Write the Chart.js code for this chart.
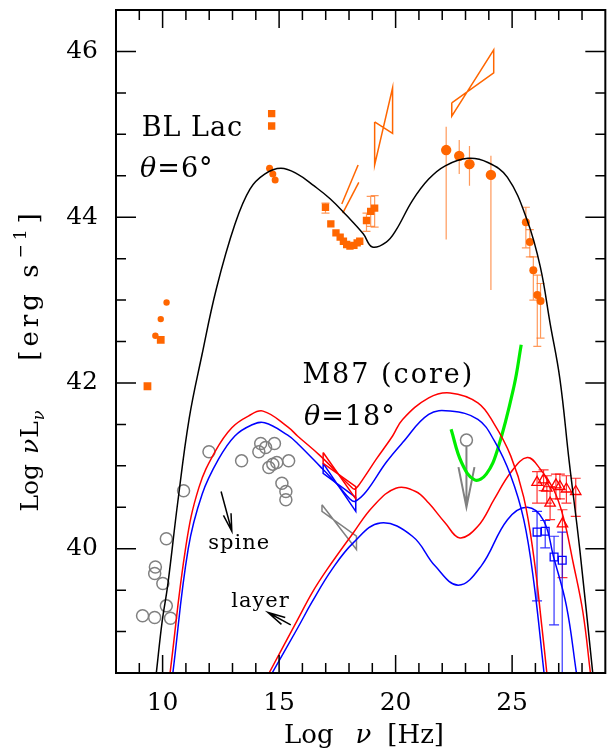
<!DOCTYPE html>
<html>
<head>
<meta charset="utf-8">
<script src="https://cdn.jsdelivr.net/npm/chart.js@4.4.1/dist/chart.umd.min.js"></script>
<style>
  html, body { margin: 0; padding: 0; background: #fff; }
</style>
</head>
<body>
<canvas id="sed" width="607" height="755"></canvas>
<script>
// log nu [Hz] / log nuL_nu [erg/s]

// BL Lac model (black)
const blLacNu = [9.73, 9.98, 10.22, 10.65, 11.14, 11.69, 12.31, 13.11, 13.75, 14.38, 15.08, 15.79, 16.49, 17.2, 17.9, 18.61, 19.0, 19.6, 20.01, 20.72, 21.42, 22.13, 23.11, 23.96, 24.8, 25.65, 26.21, 26.63, 27.05, 27.45, 27.9, 28.46];
const blLacL  = [38.5, 39.12, 39.56, 40.56, 41.57, 42.34, 43.14, 43.92, 44.34, 44.52, 44.59, 44.52, 44.38, 44.22, 44.02, 43.8, 43.64, 43.7, 43.84, 44.2, 44.46, 44.62, 44.71, 44.66, 44.48, 43.96, 43.40, 42.72, 42.05, 41.05, 40.0, 38.5];

// M87 spine (red high / blue low)
const spineRedNu = [10.32, 11.0, 11.56, 12.27, 12.97, 13.68, 14.31, 15.37, 15.79, 16.77, 17.48, 18.04, 18.25, 18.6, 19.17, 19.87, 20.3, 21.42, 22.34, 23.53, 24.24, 24.94, 25.5, 25.93, 26.28, 26.49];
const spineRedL  = [38.5, 40.03, 40.74, 41.18, 41.46, 41.6, 41.66, 41.47, 41.36, 41.12, 40.92, 40.76, 40.72, 40.84, 41.08, 41.36, 41.56, 41.82, 41.88, 41.76, 41.5, 41.12, 40.62, 39.9, 39.05, 38.5];
const spineBlueNu = [10.44, 11.1, 11.7, 12.4, 13.1, 13.8, 14.38, 15.37, 15.79, 16.77, 17.48, 18.04, 18.25, 18.74, 19.59, 20.3, 21.42, 22.34, 23.53, 24.24, 24.94, 25.5, 25.93, 26.37];
const spineBlueL  = [38.5, 40.0, 40.66, 41.08, 41.36, 41.49, 41.52, 41.37, 41.27, 40.99, 40.78, 40.6, 40.57, 40.69, 41.04, 41.28, 41.62, 41.66, 41.56, 41.3, 40.88, 40.35, 39.6, 38.5];

// M87 layer
const layerRedNu = [14.57, 15.79, 16.42, 17.06, 18.18, 19.03, 20.01, 20.86, 21.42, 22.13, 22.76, 23.53, 24.24, 24.94, 25.65, 26.21, 26.77, 27.19, 27.62, 28.04, 28.36];
const layerRedL  = [38.5, 39.14, 39.47, 39.75, 40.19, 40.51, 40.73, 40.69, 40.55, 40.31, 40.13, 40.27, 40.6, 40.92, 41.1, 40.96, 40.72, 40.39, 39.83, 39.23, 38.5];
const layerBlueNu = [14.7, 15.79, 16.42, 17.27, 18.18, 19.35, 20.72, 21.7, 22.69, 23.67, 24.8, 25.65, 26.35, 26.77, 27.33, 27.76];
const layerBlueL  = [38.5, 39.04, 39.36, 39.75, 40.07, 40.31, 40.15, 39.79, 39.56, 39.79, 40.35, 40.5, 40.34, 39.91, 39.31, 38.5];

// green sensitivity curve
const sensNu = [22.38, 22.83, 23.39, 23.89, 24.38, 25.08, 25.39];
const sensL  = [41.44, 41.04, 40.83, 40.9, 41.2, 41.96, 42.46];

// BL Lac data (orange)
const radioSqNu = [9.35, 9.92];
const radioSqL  = [41.96, 42.52];
const radioDotNu = [9.69, 9.92, 10.17];
const radioDotL  = [42.57, 42.77, 42.97];
const irSqNu = [14.68, 14.68];
const irSqL  = [45.25, 45.1];
const irDotNu = [14.59, 14.73, 14.83];
const irDotL  = [44.59, 44.52, 44.45];
const optSqNu = [16.99, 17.22, 17.44, 17.62, 17.76, 17.9, 18.04, 18.21, 18.35, 18.46];
const optSqL  = [44.12, 43.92, 43.81, 43.76, 43.71, 43.67, 43.65, 43.66, 43.69, 43.71];
const optSqLo = [44.05, null, null, null, null, null, null, null, null, null];
const optSqHi = [44.17, null, null, null, null, null, null, null, null, null];
const xSqNu = [18.75, 18.93, 19.1];
const xSqL  = [43.96, 44.07, 44.11];
const xSqLo = [43.83, 43.89, 43.88];
const xSqHi = [44.05, 44.25, 44.26];
const gevNu = [22.17, 22.73, 23.17, 24.09];
const gevL  = [44.81, 44.74, 44.64, 44.51];
const gevLo = [43.73, 44.52, 44.38, 43.12];
const gevHi = [45.09, 44.93, 44.86, 44.74];
const tevNu = [25.59, 25.76, 25.91, 26.08, 26.22];
const tevL  = [43.94, 43.7, 43.36, 43.06, 42.99];
const tevLo = [43.63, 43.52, 43.0, 42.44, 42.54];
const tevHi = [44.12, 43.85, 43.52, 43.3, 43.2];
// orange butterflies
const uvBowANu = [17.69, 18.39], uvBowAL = [44.16, 44.63];
const uvBowBNu = [17.73, 18.42], uvBowBL = [44.05, 44.42];
const xBowNu = [19.1, 19.87, 19.87, 19.1, 19.1];
const xBowL  = [45.15, 45.01, 45.56, 44.63, 45.15];
const gBowNu = [22.41, 24.21, 24.21, 22.41, 22.41];
const gBowL  = [45.38, 45.74, 46.02, 45.22, 45.38];

// M87 data
const m87Nu = [9.14, 9.66, 9.66, 9.69, 10.01, 10.16, 10.16, 10.34, 10.9, 11.99, 13.39, 14.13, 14.21, 14.42, 14.56, 14.73, 14.8, 14.9, 15.12, 15.29, 15.29, 15.41];
const m87L  = [39.19, 39.17, 39.70, 39.78, 39.58, 39.31, 40.12, 39.16, 40.70, 41.17, 41.06, 41.17, 41.27, 41.22, 40.98, 41.02, 41.27, 41.04, 40.79, 40.69, 40.59, 41.06];
const m87XRedNu = [16.89, 18.29, 18.29, 16.89, 16.89];
const m87XRedL  = [41.16, 40.6, 40.75, 41.03, 41.16];
const m87XBlueNu = [16.89, 18.29, 18.29, 16.89, 16.89];
const m87XBlueL  = [41.03, 40.45, 40.62, 40.91, 41.03];
const m87XGrayNu = [16.84, 18.32, 18.32, 16.84, 16.84];
const m87XGrayL  = [40.53, 39.99, 40.15, 40.45, 40.53];
const m87UlNu = [23.04];
const m87UlL  = [41.31];
const tevHighNu = [26.07, 26.35, 26.49, 26.63, 26.88, 27.05, 27.16, 27.33, 27.73];
const tevHighL  = [40.8, 40.83, 40.73, 40.55, 40.77, 40.75, 40.3, 40.72, 40.69];
const tevHighLo = [40.55, 40.7, 40.55, 40.35, 40.6, 40.6, 39.65, 40.55, 40.39];
const tevHighHi = [40.93, 40.95, 40.88, 40.75, 40.9, 40.9, 40.47, 40.88, 40.85];
const tevLowNu = [26.07, 26.42, 26.8, 27.15];
const tevLowL  = [40.2, 40.21, 39.9, 39.86];
const tevLowLo = [39.37, 40.01, 39.08, 38.3];
const tevLowHi = [40.45, 40.34, 40.15, 40.2];

// axis ticks
const xMajor = [10, 15, 20, 25];
const yMajor = [40, 42, 44, 46];

const ORANGE = '#ff6600';
const ORANGE_BAR = 'rgba(255,110,20,0.7)';
const font = (s, it) => (it ? 'italic ' : '') + s + 'px "DejaVu Serif"';

function pts(xs, ys) { return xs.map((v, i) => ({ x: v, y: ys[i] })); }
function curve(xs, ys, color, w) {
  return { data: pts(xs, ys), showLine: true, borderColor: color, borderWidth: w || 1.5,
    pointRadius: 0, tension: 0.4, capBezierPoints: false, fill: false };
}
function outline(xs, ys, color) {
  return { data: pts(xs, ys), showLine: true, borderColor: color, borderWidth: 1.5,
    pointRadius: 0, tension: 0, fill: false };
}
function marks(xs, ys, style, r, fillC, lineC, extra) {
  return Object.assign({ data: pts(xs, ys), showLine: false, pointStyle: style, pointRadius: r,
    backgroundColor: fillC, borderColor: lineC, borderWidth: fillC === 'transparent' ? 1.3 : 0 }, extra || {});
}

// vertical error bars + upper-limit arrows
const errBars = {
  id: 'errBars',
  beforeDatasetsDraw(chart) {
    const { ctx, chartArea: a, scales: { x, y } } = chart;
    ctx.save();
    ctx.beginPath(); ctx.rect(a.left, a.top, a.right - a.left, a.bottom - a.top); ctx.clip();
    chart.data.datasets.forEach(ds => {
      if (!ds.errLo) return;
      ctx.strokeStyle = ds.barColor; ctx.lineWidth = 1.2;
      ds.data.forEach((p, i) => {
        if (ds.errLo[i] == null) return;
        const px = x.getPixelForValue(p.x);
        const lo = y.getPixelForValue(ds.errLo[i]), hi = y.getPixelForValue(ds.errHi[i]);
        const c = ds.cap || 0;
        ctx.beginPath();
        ctx.moveTo(px, lo); ctx.lineTo(px, hi);
        if (c) { ctx.moveTo(px - c, lo); ctx.lineTo(px + c, lo); ctx.moveTo(px - c, hi); ctx.lineTo(px + c, hi); }
        ctx.stroke();
      });
    });
    chart.data.datasets.forEach(ds => {
      if (!ds.upperLimit) return;
      ctx.strokeStyle = ds.borderColor; ctx.lineWidth = 2;
      ds.data.forEach(p => {
        const px = x.getPixelForValue(p.x), py = y.getPixelForValue(p.y);
        const tip = py + 67;
        ctx.beginPath();
        ctx.moveTo(px, py + 6); ctx.lineTo(px, tip);
        ctx.moveTo(px - 8, tip - 40); ctx.lineTo(px, tip); ctx.lineTo(px + 8, tip - 40);
        ctx.stroke();
      });
    });
    ctx.restore();
  }
};

function drawRuns(ctx, parts, x, y, align) {
  let w = 0;
  parts.forEach(p => { ctx.font = p.f; p.w = ctx.measureText(p.t).width; w += p.w + (p.g || 0); });
  let cx = align === 'center' ? x - w / 2 : x;
  ctx.textAlign = 'left'; ctx.textBaseline = 'alphabetic';
  parts.forEach(p => { ctx.font = p.f; ctx.fillText(p.t, cx, y + (p.dy || 0)); cx += p.w + (p.g || 0); });
}

function arrow(ctx, x0, y0, x1, y1) {
  const ang = Math.atan2(y1 - y0, x1 - x0), L = 18, s = 0.22;
  ctx.beginPath();
  ctx.moveTo(x0, y0); ctx.lineTo(x1, y1);
  ctx.moveTo(x1 - L * Math.cos(ang - s), y1 - L * Math.sin(ang - s)); ctx.lineTo(x1, y1);
  ctx.lineTo(x1 - L * Math.cos(ang + s), y1 - L * Math.sin(ang + s));
  ctx.stroke();
}

// frame with inward ticks, tick labels, titles and notes
const frame = {
  id: 'frame',
  afterDatasetsDraw(chart) {
    const { ctx, chartArea: a, scales: { x, y } } = chart;
    const xr = x.getPixelForValue(29);
    ctx.save();
    ctx.strokeStyle = '#000'; ctx.fillStyle = '#000';
    ctx.lineWidth = 1.5;
    ctx.beginPath();
    for (let v = 9; v <= 28; v++) {
      const px = x.getPixelForValue(v), len = xMajor.includes(v) ? 18 : 10;
      ctx.moveTo(px, a.bottom); ctx.lineTo(px, a.bottom - len);
      ctx.moveTo(px, a.top); ctx.lineTo(px, a.top + len);
    }
    for (let v = 39; v <= 46; v += 0.5) {
      const py = y.getPixelForValue(v), len = yMajor.includes(v) ? 20 : 10;
      ctx.moveTo(a.left, py); ctx.lineTo(a.left + len, py);
      ctx.moveTo(xr, py); ctx.lineTo(xr - len, py);
    }
    ctx.stroke();
    ctx.lineWidth = 2;
    ctx.strokeRect(a.left, a.top, xr - a.left, a.bottom - a.top);

    ctx.font = font(25);
    ctx.textAlign = 'center'; ctx.textBaseline = 'middle';
    xMajor.forEach(v => ctx.fillText(String(v), x.getPixelForValue(v), a.bottom + 30));
    ctx.textAlign = 'right';
    yMajor.forEach(v => ctx.fillText(String(v), a.left - 18, y.getPixelForValue(v)));

    // axis titles
    drawRuns(ctx, [{ t: 'Log', f: font(26), g: 22 }, { t: 'ν', f: font(26, true), g: 16 }, { t: '[Hz]', f: font(26) }],
      364, 743, 'center');
    ctx.save();
    ctx.translate(38, 0); ctx.rotate(-Math.PI / 2);
    drawRuns(ctx, [
      { t: 'Log', f: font(25), g: 10 }, { t: 'ν', f: font(25, true), g: 1 }, { t: 'L', f: font(25), g: 1 },
      { t: 'ν', f: font(16, true), dy: 6 }
    ], -461, 0, 'center');
    ctx.letterSpacing = '4px';
    drawRuns(ctx, [
      { t: '[erg s', f: font(26), g: 2 }, { t: '−1', f: font(17), dy: -12, g: 2 }, { t: ']', f: font(26) }
    ], -285, 0, 'center');
    ctx.restore();

    // labels
    const X = v => x.getPixelForValue(v), Y = v => y.getPixelForValue(v);
    ctx.save();
    ctx.letterSpacing = '1px';
    drawRuns(ctx, [{ t: 'BL Lac', f: font(27) }], X(9.1), Y(44.98), 'left');
    drawRuns(ctx, [{ t: 'θ', f: font(27, true) }, { t: '=6°', f: font(27) }], X(9.03), Y(44.49), 'left');
    ctx.letterSpacing = '2px';
    drawRuns(ctx, [{ t: 'M87 (core)', f: font(27) }], X(16.0), Y(42.0), 'left');
    ctx.letterSpacing = '1px';
    drawRuns(ctx, [{ t: 'θ', f: font(27, true) }, { t: '=18°', f: font(27) }], X(16.07), Y(41.49), 'left');
    drawRuns(ctx, [{ t: 'spine', f: font(21) }], X(13.29), Y(40.0), 'center');
    drawRuns(ctx, [{ t: 'layer', f: font(21) }], X(14.2), Y(39.3), 'center');
    ctx.restore();
    ctx.lineWidth = 1.5;
    arrow(ctx, X(12.51), Y(40.69), X(12.97), Y(40.21));
    arrow(ctx, X(15.5), Y(39.08), X(14.52), Y(39.23));
    ctx.restore();
  }
};

const datasets = [
  curve(blLacNu, blLacL, '#000000'),
  curve(spineRedNu, spineRedL, '#ff0000'),
  curve(spineBlueNu, spineBlueL, '#0000ff'),
  curve(layerRedNu, layerRedL, '#ff0000'),
  curve(layerBlueNu, layerBlueL, '#0000ff'),
  curve(sensNu, sensL, '#00ee00', 3.2),
  outline(uvBowANu, uvBowAL, ORANGE),
  outline(uvBowBNu, uvBowBL, ORANGE),
  outline(xBowNu, xBowL, ORANGE),
  outline(gBowNu, gBowL, ORANGE),
  outline(m87XRedNu, m87XRedL, '#ff0000'),
  outline(m87XBlueNu, m87XBlueL, '#0000ff'),
  outline(m87XGrayNu, m87XGrayL, '#808080'),
  marks(radioSqNu, radioSqL, 'rect', 5.5, ORANGE, ORANGE),
  marks(radioDotNu, radioDotL, 'circle', 3.2, ORANGE, ORANGE),
  marks(irSqNu, irSqL, 'rect', 5.2, ORANGE, ORANGE),
  marks(irDotNu, irDotL, 'circle', 3.5, ORANGE, ORANGE),
  marks(optSqNu, optSqL, 'rect', 5.2, ORANGE, ORANGE, { errLo: optSqLo, errHi: optSqHi, barColor: ORANGE_BAR, cap: 4 }),
  marks(xSqNu, xSqL, 'rect', 5.2, ORANGE, ORANGE, { errLo: xSqLo, errHi: xSqHi, barColor: ORANGE_BAR, cap: 4 }),
  marks(gevNu, gevL, 'circle', 5.2, ORANGE, ORANGE, { errLo: gevLo, errHi: gevHi, barColor: ORANGE_BAR }),
  marks(tevNu, tevL, 'circle', 4, ORANGE, ORANGE, { errLo: tevLo, errHi: tevHi, barColor: ORANGE_BAR, cap: 4 }),
  marks(m87Nu, m87L, 'circle', 6, 'transparent', '#808080', { borderWidth: 1.5 }),
  marks(m87UlNu, m87UlL, 'circle', 6, 'transparent', '#808080', { borderWidth: 1.5, upperLimit: true }),
  marks(tevHighNu, tevHighL, 'triangle', 6, 'transparent', '#ff0000', { errLo: tevHighLo, errHi: tevHighHi, barColor: 'rgba(255,0,0,0.8)', cap: 5 }),
  marks(tevLowNu, tevLowL, 'rect', 5.5, 'transparent', '#0000ff', { errLo: tevLowLo, errHi: tevLowHi, barColor: 'rgba(0,0,255,0.8)', cap: 5 })
];

new Chart(document.getElementById('sed'), {
  type: 'scatter',
  data: { datasets },
  options: {
    responsive: false,
    animation: false,
    events: [],
    layout: { padding: { left: 116, right: 0, top: 10, bottom: 82 } },
    plugins: { legend: { display: false }, tooltip: { enabled: false } },
    scales: {
      x: { type: 'linear', min: 8, max: 28.75, display: false },
      y: { type: 'linear', min: 38.5, max: 46.5, display: false }
    }
  },
  plugins: [errBars, frame]
});
</script>
</body>
</html>
